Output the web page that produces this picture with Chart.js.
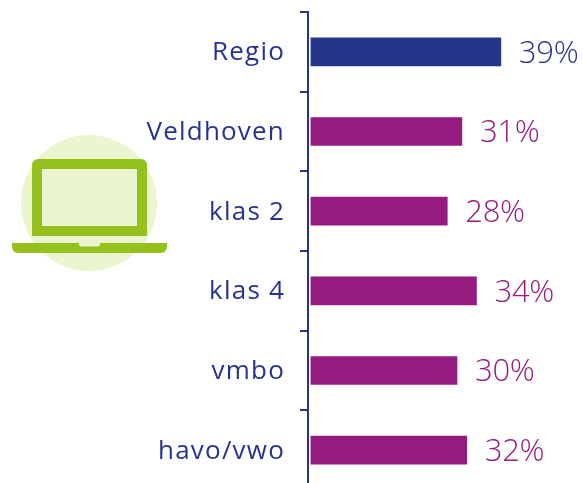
<!DOCTYPE html>
<html><head><meta charset="utf-8">
<style>html,body{margin:0;padding:0;background:#fff;overflow:hidden}#w{position:absolute;left:0;top:0;width:583px;height:483px;overflow:hidden}#w div{position:relative;width:583px;height:492px}</style>
<script src="https://cdn.jsdelivr.net/npm/chart.js@4"></script>
</head><body><div id="w"><div><canvas id="c"></canvas></div></div>
<script>
const categories=["Regio","Veldhoven","klas 2","klas 4","vmbo","havo/vwo"];
const values=[39,31,28,34,30,32];
const BLUE="#27348B",PURPLE="#951B81",GREEN="#95C11F",PALE="#EBF5CF";
const colors=[BLUE,PURPLE,PURPLE,PURPLE,PURPLE,PURPLE];
const FONT='"Open Sans", sans-serif';
const laptop={id:'laptop',beforeDraw(ch){const x=ch.ctx;x.save();
 x.fillStyle=PALE;x.beginPath();x.arc(89,203,68,0,Math.PI*2);x.fill();
 x.fillStyle=GREEN;x.beginPath();x.roundRect(32,159,115,77,[6,6,0,0]);x.fill();
 x.fillStyle=PALE;x.fillRect(42,169,95,57);
 x.fillStyle=GREEN;x.beginPath();x.roundRect(12,243,155,10,[0,0,6,6]);x.fill();
 x.fillStyle=PALE;x.beginPath();x.roundRect(79,243,21,3.5,[0,0,2,2]);x.fill();
 x.restore();
 ch.ctx.letterSpacing='1.2px';}};
const labels={id:'vals',afterDatasetsDraw(ch){const x=ch.ctx,m=ch.getDatasetMeta(0);x.save();
 x.font='300 31px '+FONT;x.textAlign='left';x.textBaseline='middle';x.letterSpacing='-0.3px';
 m.data.forEach((b,i)=>{x.fillStyle=colors[i];x.fillText(values[i]+'%',b.x+18,b.y+2);});x.restore();}};
new Chart(document.getElementById('c'),{type:'bar',plugins:[laptop,labels],
 data:{labels:categories,datasets:[{data:values,base:0,backgroundColor:colors,barThickness:28,borderWidth:0}]},
 options:{indexAxis:'y',responsive:true,maintainAspectRatio:false,animation:false,
  layout:{padding:{top:12,bottom:2,left:0,right:0}},
  plugins:{legend:{display:false},tooltip:{enabled:false}},
  scales:{
   x:{display:false,min:-0.6,max:55.87},
   y:{afterFit(s){s.width=308;s.paddingTop=0;s.paddingBottom=0;},
      border:{color:BLUE,width:2},
      grid:{drawOnChartArea:false,color:BLUE,lineWidth:2,tickLength:8,offset:true},
      ticks:{color:BLUE,padding:15,labelOffset:1,font:{family:FONT,size:26},autoSkip:false}}
  }}});
</script></body></html>
